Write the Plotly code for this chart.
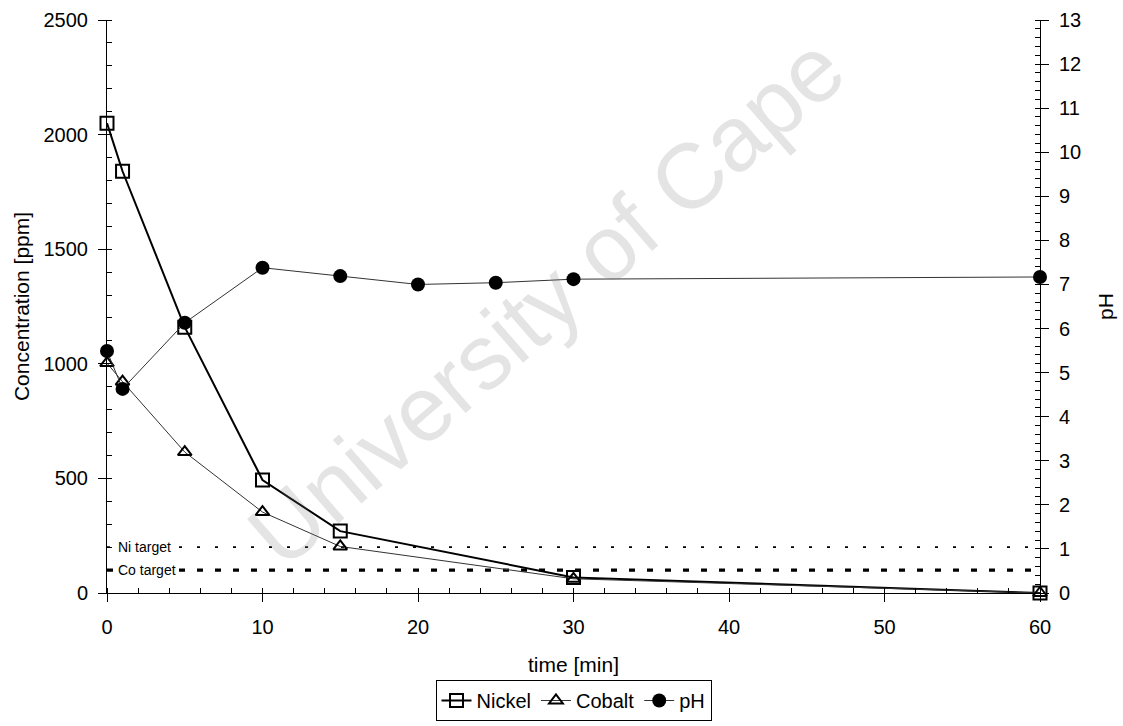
import plotly.graph_objects as go

# Sampling times [min]
time_nickel = [0, 1, 5, 10, 15, 30, 60]
nickel_ppm = [2050, 1840, 1160, 493, 270, 68, 0]

time_cobalt = [0, 1, 5, 10, 15, 30, 60]
cobalt_ppm = [1003, 922, 615, 353, 203, 62, 0]

time_ph = [0, 1, 5, 10, 15, 20, 25, 30, 60]
ph_values = [5.49, 4.63, 6.13, 7.38, 7.19, 7.0, 7.04, 7.12, 7.17]

# Target concentrations [ppm]
ni_target = 200
co_target = 100

FONT = "Liberation Sans, Arial, sans-serif"

fig = go.Figure()

# Target lines across the full time range
fig.add_trace(go.Scatter(
    x=[0, 60], y=[ni_target, ni_target], mode="lines",
    line=dict(color="black", width=1.6, dash="3px,15px"),
    showlegend=False, hoverinfo="skip"))
fig.add_trace(go.Scatter(
    x=[0, 60], y=[co_target, co_target], mode="lines",
    line=dict(color="black", width=3.2, dash="6px,12px"),
    showlegend=False, hoverinfo="skip"))

fig.add_trace(go.Scatter(
    x=time_nickel, y=nickel_ppm, name="Nickel", mode="lines+markers",
    line=dict(color="black", width=2),
    marker=dict(symbol="square-open", size=13, color="black", line=dict(width=2)),
    cliponaxis=False))
fig.add_trace(go.Scatter(
    x=time_cobalt, y=cobalt_ppm, name="Cobalt", mode="lines+markers",
    line=dict(color="#333333", width=1),
    marker=dict(symbol="triangle-up-open", size=12, color="black", line=dict(width=2)),
    cliponaxis=False))
fig.add_trace(go.Scatter(
    x=time_ph, y=ph_values, name="pH", mode="lines+markers", yaxis="y2",
    line=dict(color="#333333", width=1),
    marker=dict(symbol="circle", size=14, color="black"),
    cliponaxis=False))

# Target labels sitting on the target lines
fig.add_annotation(x=0.6, y=ni_target, xref="x", yref="y", text="Ni target",
                   showarrow=False, xanchor="left", yanchor="middle",
                   bgcolor="white", font=dict(family=FONT, size=14, color="black"))
fig.add_annotation(x=0.6, y=co_target, xref="x", yref="y", text="Co target",
                   showarrow=False, xanchor="left", yanchor="middle",
                   bgcolor="white", font=dict(family=FONT, size=14, color="black"))

# Faint diagonal watermark
fig.add_annotation(x=0.47, y=0.51, xref="paper", yref="paper",
                   text="University of Cape", showarrow=False, textangle=-41,
                   font=dict(family=FONT, size=92, color="rgba(120,120,120,0.2)"))

axis_common = dict(
    showgrid=False, zeroline=False, showline=True, linecolor="black", linewidth=1,
    tickfont=dict(family=FONT, size=20, color="black"),
    ticks="outside", tickcolor="black", ticklen=8, tickwidth=1,
    automargin=False,
)

fig.update_layout(
    width=1123, height=726,
    margin=dict(l=107, r=83, t=20, b=133),
    paper_bgcolor="white", plot_bgcolor="white",
    font=dict(family=FONT, color="black"),
    xaxis=dict(
        range=[0, 60], dtick=10, **axis_common,
        minor=dict(dtick=2, ticks="inside", ticklen=5, tickcolor="black"),
        ticklabelstandoff=8,
        title=dict(text="time [min]", font=dict(family=FONT, size=21), standoff=20),
    ),
    yaxis=dict(
        range=[0, 2500], dtick=500, **axis_common,
        minor=dict(dtick=100, ticks="inside", ticklen=5, tickcolor="black"),
        ticklabelstandoff=6,
        title=dict(text="Concentration [ppm]", font=dict(family=FONT, size=21), standoff=8),
    ),
    yaxis2=dict(
        range=[0, 13], dtick=1, overlaying="y", side="right", **axis_common,
        minor=dict(dtick=0.2, ticks="inside", ticklen=5, tickcolor="black"),
        ticklabelstandoff=6,
        title=dict(text="pH", font=dict(family=FONT, size=21), standoff=18),
    ),
    legend=dict(
        orientation="h", x=0.5, xanchor="center",
        yref="container", y=5 / 726, yanchor="bottom",
        bordercolor="black", borderwidth=1, bgcolor="white",
        font=dict(family=FONT, size=20, color="black"),
        itemwidth=30, tracegroupgap=0,
    ),
)

fig.write_html("out.html")
